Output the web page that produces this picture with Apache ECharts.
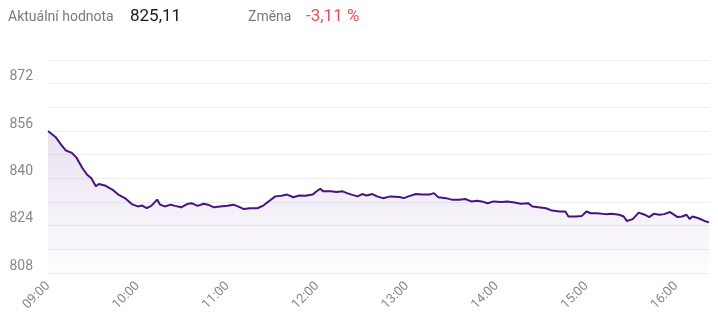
<!DOCTYPE html>
<html>
<head>
<meta charset="utf-8">
<script src="https://cdn.jsdelivr.net/npm/echarts@6/dist/echarts.min.js"></script>
<style>
html,body{margin:0;padding:0;background:#fff;}
#c{width:718px;height:326px;}
</style>
</head>
<body>
<div id="c"></div>
<script>
const headerLabel = 'Aktuální hodnota';
const headerValue = '825,11';
const changeLabel = 'Změna';
const changeValue = '-3,11 %';

const times = ['09:00','09:05','09:09','09:12','09:16','09:19','09:23','09:26','09:29','09:32','09:34','09:38','09:43','09:47','09:52','09:56',
'10:00','10:03','10:06','10:09','10:13','10:15','10:18','10:22','10:25','10:29','10:33','10:36','10:40','10:44','10:47','10:51','10:55',
'11:00','11:04','11:07','11:11','11:15','11:20','11:24','11:27','11:32','11:36','11:40','11:44','11:48','11:52','11:57','11:59',
'12:02','12:04','12:09','12:13','12:17','12:20','12:23','12:27','12:30','12:33','12:37','12:40','12:44','12:49','12:55','12:58',
'13:01','13:06','13:10','13:15','13:18','13:21','13:26','13:30','13:35','13:39','13:43','13:47','13:50','13:54','13:58',
'14:03','14:07','14:12','14:16','14:21','14:24','14:28','14:33','14:37','14:42','14:46','14:48','14:53','14:57',
'15:00','15:03','15:07','15:13','15:17','15:22','15:25','15:27','15:31','15:35','15:39','15:42','15:45','15:49','15:52','15:56',
'16:01','16:04','16:07','16:09','16:11','16:15','16:19','16:22'];

const values = [856.0,854.0,851.2,849.4,848.6,847.0,843.5,841.3,840.0,837.3,838.1,837.6,836.2,834.5,833.1,831.3,
830.5,830.8,829.9,830.7,832.8,831.1,830.5,831.1,830.7,830.2,831.3,831.6,830.7,831.4,831.1,830.2,830.5,
830.7,831.1,830.5,829.6,829.9,829.9,830.8,832.0,833.9,834.1,834.5,833.6,834.2,834.1,834.5,835.4,
836.5,835.6,835.6,835.4,835.6,835.0,834.5,833.9,834.7,834.2,834.7,833.9,833.3,833.9,833.7,833.3,
833.9,834.7,834.5,834.5,835.0,833.6,833.3,832.8,832.8,833.0,832.2,832.4,832.2,831.6,832.2,
832.0,832.2,831.8,831.4,831.6,830.5,830.2,829.9,829.1,828.8,828.8,827.1,827.1,827.3,
828.8,828.2,828.2,827.9,828.0,827.7,827.1,825.6,826.2,828.4,827.7,826.9,828.0,827.7,827.9,828.6,
826.9,827.1,827.7,826.3,827.1,826.5,825.6,825.11];

const yMin = 808, yMax = 880, yStep = 8, yLabelStep = 16;
const xStepMinutes = 60;

function toMin(t){ const p = t.split(':'); return (+p[0]-9)*60 + (+p[1]); }
function fmt(m){ const h = 9 + Math.floor(m/60), mm = m%60; return (h<10?'0':'')+h+':'+(mm<10?'0':'')+mm; }

const data = times.map((t,i)=>[toMin(t), values[i]]);
const lastMin = data[data.length-1][0];

const chart = echarts.init(document.getElementById('c'), null, {renderer:'canvas'});
const font = 'Roboto, "Noto Sans", sans-serif';
chart.setOption({
  animation:false,
  textStyle:{fontFamily:font},
  graphic:[
    {type:'text', left:8, top:10, style:{text:headerLabel, fill:'#7a7a7a', font:'14px '+font}},
    {type:'text', left:130, top:8, style:{text:headerValue, fill:'#1a1a1a', font:'17px '+font}},
    {type:'text', left:248, top:10, style:{text:changeLabel, fill:'#7a7a7a', font:'14px '+font}},
    {type:'text', left:306, top:8, style:{text:changeValue, fill:'#e4505a', font:'17px '+font}}
  ],
  grid:{left:48, right:9, top:60, bottom:53},
  xAxis:{
    type:'value', min:0, max:lastMin, interval:xStepMinutes,
    axisLine:{show:false}, axisTick:{show:false}, splitLine:{show:false},
    axisLabel:{rotate:45, color:'#888', fontSize:13, fontFamily:font, margin:11, showMaxLabel:false,
      formatter:function(v){ return (v % xStepMinutes === 0) ? fmt(v) : ''; }}
  },
  yAxis:{
    type:'value', min:yMin, max:yMax, interval:yStep,
    axisLine:{show:false}, axisTick:{show:false},
    splitLine:{lineStyle:{color:'#ededf2', width:1}},
    axisLabel:{color:'#888', fontSize:14, fontFamily:font, margin:15, verticalAlign:'bottom',
      formatter:function(v){ return ((v-yMin) % yLabelStep === 0 && v < yMax) ? String(v) : ''; }}
  },
  series:[{
    type:'line', data:data, showSymbol:false, smooth:false,
    lineStyle:{color:'#4a137f', width:2},
    itemStyle:{color:'#4a137f'},
    areaStyle:{origin:'start', color:new echarts.graphic.LinearGradient(0,0,0,1,[
      {offset:0, color:'rgba(110,60,160,0.22)'},
      {offset:1, color:'rgba(110,60,160,0.02)'}
    ])}
  }]
});
</script>
</body>
</html>
